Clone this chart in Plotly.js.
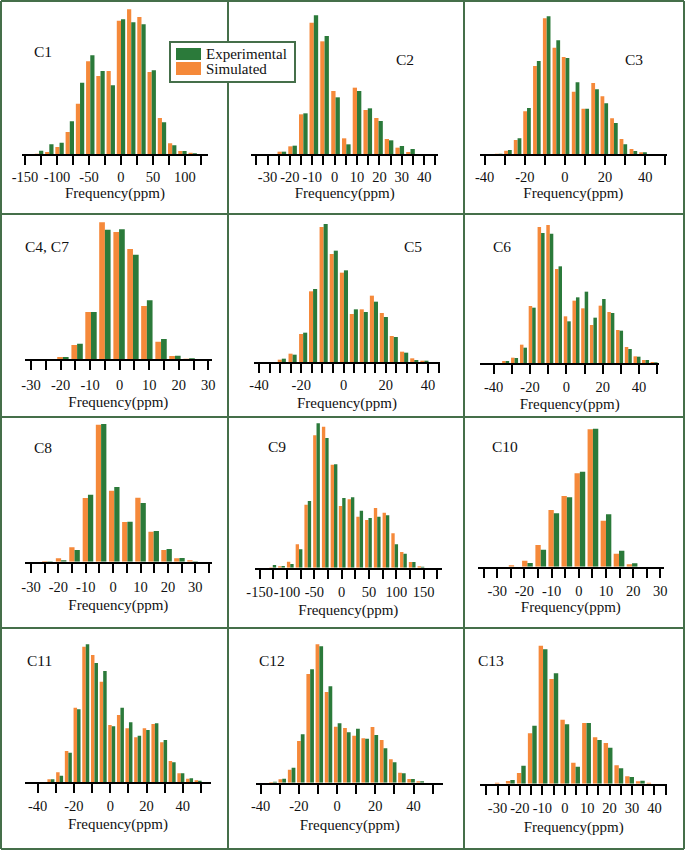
<!DOCTYPE html>
<html><head><meta charset="utf-8">
<script src="https://cdn.plot.ly/plotly-3.0.1.min.js"></script>
<style>html,body{margin:0;padding:0;background:#fff}#chart{width:685px;height:851px}</style>
</head><body><div id="chart"></div>
<script>
// ---------- data (bin centre in ppm, relative counts) ----------
const seriesNames = ['Simulated', 'Experimental'];
const panelLabels = ['C1', 'C2', 'C3', 'C4, C7', 'C5', 'C6', 'C8', 'C9', 'C10', 'C11', 'C12', 'C13'];
const axisTitle = 'Frequency(ppm)';

const c1_x   = [-128,-112,-96,-80,-64,-48,-32,-16,0,16,32,48,64,80,96,112];
const c1_sim = [1,6,21,66,151,278,234,249,400,434,411,246,108,32,9,4];
const c1_exp = [10,29,34,98,214,296,249,206,404,395,389,251,95,26,9,2];

const c2_x   = [-23.6,-18.8,-14,-9.3,-4.5,0.4,5.2,10,14.8,19.6,24.3,29.1,33.9];
const c2_sim = [7,23,119,394,338,189,47,199,132,108,45,19,6];
const c2_exp = [7,25,122,416,354,170,29,189,137,99,41,24,15];

const c3_x   = [-33,-28.4,-23.6,-18.9,-14,-9.1,-4.3,0.3,5.3,10.1,15,19.6,24.4,29.1,34.1,38.9];
const c3_sim = [1,10,42,128,264,407,319,291,187,136,213,173,107,45,15,5];
const c3_exp = [1,12,47,138,279,413,341,288,215,136,194,152,93,29,9,5];

const c4_x   = [-19.2,-14.4,-9.7,-5,-0.2,4.5,9.2,14,18.7,23.5];
const c4_sim = [6,42,141,410,381,330,159,52,9,1];
const c4_exp = [6,46,141,388,389,313,176,60,10,2];

const c5_x   = [-29.2,-24.1,-19.1,-14.4,-9.4,-4.6,0.2,4.9,9.6,14.4,19.1,23.8,28.7,33.5,38.3];
const c5_sim = [7,25,84,212,405,324,268,144,158,199,147,78,31,11,4];
const c5_exp = [10,22,88,219,414,334,275,158,150,181,135,75,28,6,4];

const c6_x   = [-33.4,-28.5,-23.6,-18.8,-13.9,-9.1,-4.3,0.5,5.3,10.1,14.9,19.7,24.5,29.3,34.1,38.9,43.6,48.3];
const c6_sim = [6,16,55,171,408,414,282,140,187,164,114,172,153,99,48,20,9,3];
const c6_exp = [6,15,46,166,390,388,290,125,197,214,136,192,150,97,42,19,9,2];

const c8_x   = [-24,-19,-14.1,-9.2,-4.4,0.4,5.2,10,14.8,19.5,24.2,29];
const c8_sim = [2,10,43,191,411,213,119,192,90,35,10,4];
const c8_exp = [1,4,35,201,413,224,120,176,92,38,11,1];

const c9_x   = [-126,-110,-94,-78,-62,-46,-30,-14,1,17,33,49,65,81,97,113,129,145];
const c9_sim = [1,4,18,70,189,397,423,309,185,205,153,143,179,165,103,47,17,4];
const c9_exp = [8,5,11,55,200,433,389,310,209,211,171,149,153,157,70,42,17,3];

const c10_x   = [-23.8,-18.9,-14,-9.2,-4.4,0.4,5.2,10,14.8,19.6];
const c10_sim = [4,18,65,170,212,280,412,138,39,7];
const c10_exp = [0,11,51,160,208,285,414,157,48,10];

const c11_x   = [-32.7,-27.9,-23.1,-18.3,-13.5,-8.7,-3.9,0.8,5.6,10.3,15.1,19.8,24.6,29.4,34.1,38.9,43.7,48.4];
const c11_sim = [9,30,94,224,407,382,302,172,202,162,135,162,175,120,64,27,11,6];
const c11_exp = [9,20,89,219,414,358,334,168,224,180,140,157,177,127,60,27,12,5];

const c12_x   = [-33.5,-28.7,-23.8,-19,-14.1,-9.3,-4.5,0.3,5.1,9.9,14.7,19.5,24.3,29.1,33.9,38.7,43.5];
const c12_sim = [2,10,39,125,326,415,272,168,164,141,133,167,128,70,30,11,4];
const c12_exp = [3,12,45,145,340,409,289,178,151,162,132,143,103,61,28,11,4];

const c13_x   = [-29.2,-24.3,-19.4,-14.5,-9.7,-4.9,0,4.8,9.7,14.5,19.3,24.1,28.9,33.7,38.5];
const c13_sim = [3,8,32,151,414,314,192,63,182,139,122,55,22,7,3];
const c13_exp = [0,11,54,174,403,331,178,51,182,131,108,46,20,9,0];

const panelX   = [c1_x, c2_x, c3_x, c4_x, c5_x, c6_x, c8_x, c9_x, c10_x, c11_x, c12_x, c13_x];
const panelSim = [c1_sim, c2_sim, c3_sim, c4_sim, c5_sim, c6_sim, c8_sim, c9_sim, c10_sim, c11_sim, c12_sim, c13_sim];
const panelExp = [c1_exp, c2_exp, c3_exp, c4_exp, c5_exp, c6_exp, c8_exp, c9_exp, c10_exp, c11_exp, c12_exp, c13_exp];

// tick definitions: [first, last, tick step, label step]
const panelTicks = [
  [-150,125,25,50], [-35,45,5,10], [-40,50,10,20],
  [-30,30,5,10], [-40,45,5,20], [-40,50,10,20],
  [-30,35,5,10], [-150,175,25,50], [-35,30,5,10],
  [-40,50,10,20], [-40,50,10,20], [-35,45,5,10]
];

// ---------- geometry (pixels, layout only) ----------
const W = 685, H = 851, S = 3;
// lso = tick-label standoff, tso = title standoff
const geo = [
  {ox:0,   oy:0,   bz:462, zL:65, zR:625, r1:[75,-150], r2:[603,125], lab:[130,155], lso:0, tso:2},
  {ox:228, oy:0,   bz:462, zL:70, zR:630, r1:[85,-35],  r2:[622,45],  lab:[530,178], lso:0, tso:2},
  {ox:463, oy:0,   bz:462, zL:50, zR:612, r1:[65,-40],  r2:[607,50],  lab:[512,178], lso:0, tso:2},
  {ox:0,   oy:213, bz:438, zL:75, zR:635, r1:[93,-30],  r2:[625,30],  lab:[140,100], lso:3, tso:4},
  {ox:228, oy:213, bz:447, zL:78, zR:636, r1:[93,-40],  r2:[600,40],  lab:[555,100], lso:0, tso:5},
  {ox:463, oy:213, bz:450, zL:52, zR:588, r1:[92,-40],  r2:[528,40],  lab:[118,100], lso:1, tso:4},
  {ox:0,   oy:416, bz:437, zL:75, zR:635, r1:[93,-30],  r2:[627,35],  lab:[130,95],  lso:2, tso:5},
  {ox:228, oy:416, bz:455, zL:80, zR:642, r1:[95,-150], r2:[628,175], lab:[148,92],  lso:1, tso:5},
  {ox:463, oy:416, bz:452, zL:45, zR:602, r1:[62,-35],  r2:[592,30],  lab:[125,92],  lso:1, tso:2},
  {ox:0,   oy:620, bz:487, zL:75, zR:633, r1:[113,-40], r2:[603,50],  lab:[118,122], lso:0, tso:6},
  {ox:228, oy:620, bz:488, zL:85, zR:645, r1:[98,-40],  r2:[614,50],  lab:[132,122], lso:0, tso:6},
  {ox:463, oy:620, bz:491, zL:52, zR:612, r1:[70,-35],  r2:[608,45],  lab:[85,120],  lso:1, tso:6}
];

const GREEN = '#2b7a3a', ORANGE = '#f5893a', FRAME = '#456f4a';
const FONT = 'Liberation Serif, Times New Roman, serif';

const traces = [];
const layout = {
  width: W, height: H,
  margin: {l:0, r:0, t:0, b:0},
  paper_bgcolor: '#ffffff', plot_bgcolor: 'rgba(0,0,0,0)',
  showlegend: false,
  barmode: 'group', bargap: 0.18, bargroupgap: 0,
  font: {family: FONT, color: '#111', size: 14},
  shapes: [], annotations: []
};

geo.forEach((g, i) => {
  const n = i + 1;
  const xa = n === 1 ? 'x' : 'x' + n, ya = n === 1 ? 'y' : 'y' + n;
  const xk = n === 1 ? 'xaxis' : 'xaxis' + n, yk = n === 1 ? 'yaxis' : 'yaxis' + n;
  const s = (g.r2[0] - g.r1[0]) / (g.r2[1] - g.r1[1]);
  const lo = g.r1[1] + (g.zL - g.r1[0]) / s, hi = g.r1[1] + (g.zR - g.r1[0]) / s;
  const [t0, t1, ts, ls] = panelTicks[i];
  const tv = [], tt = [];
  for (let v = t0; v <= t1 + 1e-9; v += ts) { tv.push(v); tt.push(Math.abs(v % ls) < 1e-9 ? String(v) : ''); }

  layout[xk] = {
    anchor: ya, domain: [(g.ox + g.zL / S) / W, (g.ox + g.zR / S) / W],
    range: [lo, hi], fixedrange: true,
    showline: true, linecolor: '#000', linewidth: 2,
    ticks: 'outside', ticklen: 9, tickwidth: 2, tickcolor: '#000',
    tickmode: 'array', tickvals: tv, ticktext: tt, tickangle: 0,
    tickfont: {family: FONT, size: 14.5, color: '#111'}, ticklabelstandoff: g.lso,
    showgrid: false, zeroline: false, automargin: false,
    title: {text: axisTitle, font: {family: FONT, size: 15, color: '#111'}, standoff: g.tso}
  };
  layout[yk] = {
    anchor: xa, domain: [1 - (g.oy + g.bz / S) / H, 1 - g.oy / H],
    range: [0, g.bz], visible: false, fixedrange: true
  };
  traces.push({type: 'bar', name: seriesNames[0], x: panelX[i], y: panelSim[i], xaxis: xa, yaxis: ya,
               marker: {color: ORANGE, line: {width: 0}}, hoverinfo: 'x+y'});
  traces.push({type: 'bar', name: seriesNames[1], x: panelX[i], y: panelExp[i], xaxis: xa, yaxis: ya,
               marker: {color: GREEN, line: {width: 0}}, hoverinfo: 'x+y'});
  layout.annotations.push({
    xref: 'paper', yref: 'paper', x: (g.ox + g.lab[0] / S) / W, y: 1 - (g.oy + g.lab[1] / S) / H,
    text: panelLabels[i], showarrow: false, xanchor: 'center', yanchor: 'middle',
    font: {family: FONT, size: 15.5, color: '#111'}
  });
});

// frame grid
const vx = [1, 228, 464, 684], hy = [1, 214, 417, 628, 849];
vx.forEach(x => layout.shapes.push({type:'line', xref:'paper', yref:'paper', x0:x/W, x1:x/W, y0:1-1/H, y1:1-849/H, line:{color:FRAME, width:2}}));
hy.forEach(y => layout.shapes.push({type:'line', xref:'paper', yref:'paper', x0:1/W, x1:684/W, y0:1-y/H, y1:1-y/H, line:{color:FRAME, width:2}}));

// legend box
const px = x => x / W, py = y => 1 - y / H;
layout.shapes.push({type:'rect', xref:'paper', yref:'paper', x0:px(170), x1:px(295), y0:py(42), y1:py(82), line:{color:FRAME, width:2}, fillcolor:'#fff', layer:'above'});
layout.shapes.push({type:'rect', xref:'paper', yref:'paper', x0:px(176), x1:px(201), y0:py(48), y1:py(60), line:{width:0}, fillcolor:GREEN, layer:'above'});
layout.shapes.push({type:'rect', xref:'paper', yref:'paper', x0:px(176), x1:px(201), y0:py(62), y1:py(75), line:{width:0}, fillcolor:ORANGE, layer:'above'});
layout.annotations.push({xref:'paper', yref:'paper', x:px(204), y:py(54), text:seriesNames[1], showarrow:false, xanchor:'left', yanchor:'middle', font:{family:FONT, size:15, color:'#111'}});
layout.annotations.push({xref:'paper', yref:'paper', x:px(204), y:py(68.5), text:seriesNames[0], showarrow:false, xanchor:'left', yanchor:'middle', font:{family:FONT, size:15, color:'#111'}});

Plotly.newPlot('chart', traces, layout, {staticPlot: true, displayModeBar: false});
</script>
</body></html>
